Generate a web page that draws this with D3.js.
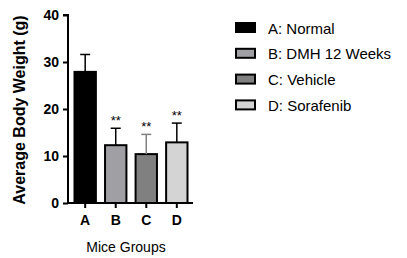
<!DOCTYPE html>
<html><head><meta charset="utf-8">
<script src="https://cdn.jsdelivr.net/npm/d3@7"></script>
<style>
body{margin:0;background:#fff;}
svg{display:block;font-family:"Liberation Sans",Arial,sans-serif;}
</style></head><body>
<svg id="c" width="407" height="258"></svg>
<script>
const categories = ["A","B","C","D"];
const legendLabels = ["A: Normal","B: DMH 12 Weeks","C: Vehicle","D: Sorafenib"];
const means = [27.9, 12.3, 10.4, 12.9];
const errors = [3.7, 3.6, 4.2, 4.1];
const significance = ["", "**", "**", "**"];
const yTicks = [0,10,20,30,40];
const fills = ["#000000","#a0a0a4","#808080","#d4d4d4"];
const errColors = ["#000000","#000000","#808080","#000000"];

const svg = d3.select("#c");
const x0 = 68, x1 = 193, yTop = 15, yBot = 203;
const x = d3.scaleBand().domain(categories).range([x0+1, x1]).paddingInner(0.3).paddingOuter(0.18);
const y = d3.scaleLinear().domain([0,40]).range([yBot, yTop]);

// bars
const g = svg.append("g");
g.selectAll("rect.bar").data(categories).enter().append("rect")
  .attr("x", d => x(d)).attr("width", x.bandwidth())
  .attr("y", (d,i) => y(means[i])).attr("height", (d,i) => y(0) - y(means[i]))
  .attr("fill", (d,i) => fills[i]).attr("stroke", "#000").attr("stroke-width", 2);

// error bars
categories.forEach((d,i) => {
  const cx = x(d) + x.bandwidth()/2;
  g.append("line").attr("x1", cx).attr("x2", cx)
    .attr("y1", y(means[i])).attr("y2", y(means[i]+errors[i]))
    .attr("stroke", errColors[i]).attr("stroke-width", 1.5);
  g.append("line").attr("x1", cx-5).attr("x2", cx+5)
    .attr("y1", y(means[i]+errors[i])).attr("y2", y(means[i]+errors[i]))
    .attr("stroke", errColors[i]).attr("stroke-width", 1.5);
  if (significance[i]) {
    g.append("text").attr("x", cx).attr("y", y(means[i]+errors[i]) - 3)
      .attr("text-anchor", "middle").attr("font-size", 13).attr("fill", "#000").text(significance[i]);
  }
});

// y axis
const ya = svg.append("g").attr("transform", `translate(${x0},0)`)
  .call(d3.axisLeft(y).tickValues(yTicks).tickSize(5).tickPadding(4));
ya.select(".domain").attr("stroke-width", 2).attr("d", `M-5,${yTop}H0V${yBot}`);
ya.selectAll(".tick line").attr("stroke-width", 2);
ya.selectAll(".tick text").attr("font-size", 14).attr("font-weight", "bold").attr("fill", "#000")
  .attr("font-family", "Liberation Sans, Arial, sans-serif");

// x axis
const xa = svg.append("g").attr("transform", `translate(0,${yBot})`)
  .call(d3.axisBottom(x).tickSize(5).tickPadding(7));
xa.select(".domain").attr("stroke-width", 2).attr("d", `M${x0},0H${x1}`);
xa.selectAll(".tick line").attr("stroke-width", 2);
xa.selectAll(".tick text").attr("font-size", 14).attr("font-weight", "bold").attr("fill", "#000")
  .attr("font-family", "Liberation Sans, Arial, sans-serif");

// axis titles
svg.append("text").attr("transform", `translate(25,${(yTop+yBot)/2 + 1}) rotate(-90)`)
  .attr("text-anchor", "middle").attr("font-size", 16).attr("font-weight", "bold")
  .text("Average Body Weight (g)");
svg.append("text").attr("x", 126).attr("y", 252)
  .attr("text-anchor", "middle").attr("font-size", 14).text("Mice Groups");

// legend
const lg = svg.append("g").attr("transform", "translate(236,23)");
legendLabels.forEach((t,i) => {
  const row = lg.append("g").attr("transform", `translate(0,${i*25.8})`);
  row.append("rect").attr("x", 0).attr("y", 0).attr("width", 19).attr("height", 9)
    .attr("fill", fills[i]).attr("stroke", "#000").attr("stroke-width", 2);
  row.append("text").attr("x", 32).attr("y", 10.5).attr("font-size", 15).text(t);
});
</script>
</body></html>
